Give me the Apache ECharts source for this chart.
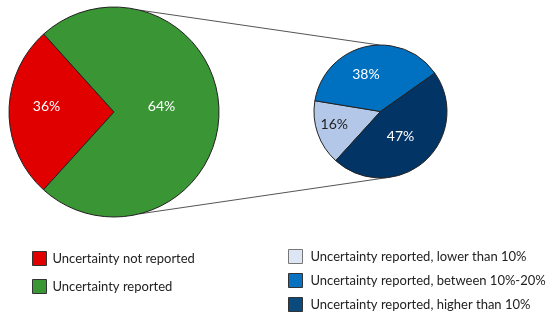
<!DOCTYPE html>
<html>
<head>
<meta charset="utf-8">
<script src="https://cdn.jsdelivr.net/npm/echarts@6/dist/echarts.min.js"></script>
<style>html,body{margin:0;padding:0;background:#fff}#c{width:550px;height:322px}</style>
</head>
<body>
<div id="c"></div>
<script>
// Main pie: slice sizes as drawn, labels as printed
var mainNames = ['Uncertainty not reported', 'Uncertainty reported'];
var mainValues = [26.6, 73.4];
var mainLabels = ['36%', '64%'];
// Breakdown pie
var subNames = ['Uncertainty reported, lower than 10%', 'Uncertainty reported, between 10%-20%', 'Uncertainty reported, higher than 10%'];
var subValues = [16, 38, 47];
var subLabels = ['16%', '38%', '47%'];

var mainColors = ['#E00000', '#3A9534'];
var subColors = ['#B3C8E8', '#0070C0', '#023466'];
var subLegendColors = ['#DCE6F5', '#0872C0', '#0A4A7C'];

var FONT = 'Lato';
var bigC = [114, 112], bigR = 105;
var smallC = [380.5, 111.5], smallR = 66.5;
var mainOffsets = [[-12, -5], [-8, -6]];
var subOffsets = [[-12, 1.5], [-6.5, -2], [-4, -2]];

function pt(c, r, deg) {
  var a = deg * Math.PI / 180;
  return [c[0] + r * Math.cos(a), c[1] - r * Math.sin(a)];
}
var t1 = pt(bigC, bigR, 76), t2 = pt(smallC, smallR, 91);
var b1 = pt(bigC, bigR, -76), b2 = pt(smallC, smallR, -85);

var chart = echarts.init(document.getElementById('c'), null, {renderer: 'canvas'});
chart.setOption({
  animation: false,
  backgroundColor: '#fff',
  textStyle: {fontFamily: FONT},
  graphic: [
    {type: 'line', z: 0, shape: {x1: t1[0], y1: t1[1], x2: t2[0], y2: t2[1]}, style: {stroke: '#555', lineWidth: 1}},
    {type: 'line', z: 0, shape: {x1: b1[0], y1: b1[1], x2: b2[0], y2: b2[1]}, style: {stroke: '#555', lineWidth: 1}}
  ],
  legend: [
    {
      left: 32, top: 251, padding: 0, orient: 'vertical', itemWidth: 14, itemHeight: 14, itemGap: 13,
      icon: 'rect', selectedMode: false,
      textStyle: {fontFamily: FONT, fontSize: 13, color: '#222', padding: [0, 0, 0, 1]},
      data: mainNames.map(function (n, i) {
        return {name: n, itemStyle: {color: mainColors[i], borderColor: '#333', borderWidth: 1}};
      })
    },
    {
      left: 288, top: 249, padding: 0, orient: 'vertical', itemWidth: 14, itemHeight: 14, itemGap: 9,
      icon: 'rect', selectedMode: false,
      textStyle: {fontFamily: FONT, fontSize: 13, color: '#222', padding: [0, 0, 0, 3]},
      data: subNames.map(function (n, i) {
        return {name: n, itemStyle: {color: subLegendColors[i], borderColor: i === 0 ? '#777' : '#333', borderWidth: 1}};
      })
    }
  ],
  series: [
    {
      type: 'pie', center: bigC, radius: bigR, startAngle: 227.8, clockwise: true,
      silent: true, avoidLabelOverlap: false,
      itemStyle: {borderColor: '#222', borderWidth: 1},
      label: {
        position: 'inside', fontFamily: FONT, fontSize: 14, color: '#fff',
        formatter: function (p) { return mainLabels[p.dataIndex]; }
      },
      labelLayout: function (p) { var o = mainOffsets[p.dataIndex]; return {dx: o[0], dy: o[1]}; },
      data: mainNames.map(function (n, i) { return {name: n, value: mainValues[i], itemStyle: {color: mainColors[i]}}; })
    },
    {
      type: 'pie', center: smallC, radius: smallR, startAngle: 227.7, clockwise: true,
      silent: true, avoidLabelOverlap: false,
      itemStyle: {borderColor: '#222', borderWidth: 1},
      label: {
        position: 'inside', fontFamily: FONT, fontSize: 14,
        formatter: function (p) { return subLabels[p.dataIndex]; }
      },
      labelLayout: function (p) { var o = subOffsets[p.dataIndex]; return {dx: o[0], dy: o[1]}; },
      data: subNames.map(function (n, i) {
        return {name: n, value: subValues[i], itemStyle: {color: subColors[i]}, label: {color: i === 0 ? '#222' : '#fff'}};
      })
    }
  ]
});
</script>
</body>
</html>
